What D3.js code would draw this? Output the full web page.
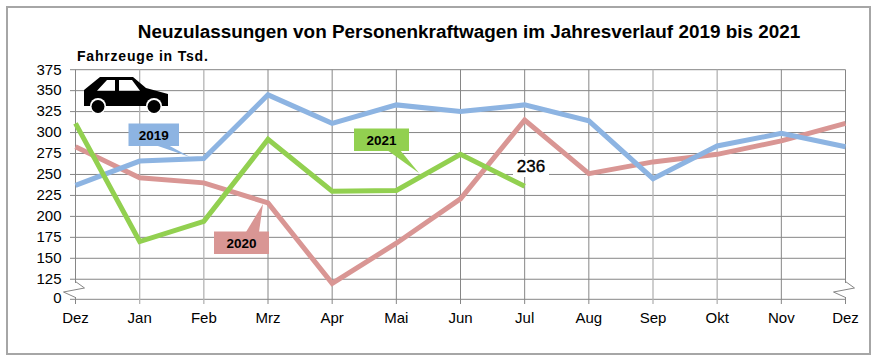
<!DOCTYPE html>
<html><head><meta charset="utf-8">
<script src="https://cdnjs.cloudflare.com/ajax/libs/d3/7.8.5/d3.min.js"></script>
<style>html,body{margin:0;padding:0;background:#fff}svg{display:block}text{font-family:"Liberation Sans",Arial,sans-serif;fill:#000}</style>
</head><body><svg id="c" width="880" height="364"></svg>
<script>
const months=["Dez","Jan","Feb","Mrz","Apr","Mai","Jun","Jul","Aug","Sep","Okt","Nov","Dez "];
const yTicks=[0,125,150,175,200,225,250,275,300,325,350,375];
const s2019=[237,266,269,345,311,333,325,333,314,245,284,299,283];
const s2020=[283,246,240,216,120,168,221,315,251,265,274,290,311];
const s2021=[311,170,194,292,230,231,274,236];
const lastLabel="236";
const title="Neuzulassungen von Personenkraftwagen im Jahresverlauf 2019 bis 2021";
const unit="Fahrzeuge in Tsd.";

const svg=d3.select("#c");
const x=d3.scalePoint().domain(months).range([75.5,845.5]);
const y=d3.scaleLinear().domain([0,105,375]).range([299.3,296,69.7]);
const grid="#868686";

svg.append("rect").attr("x",7).attr("y",7).attr("width",863).attr("height",347).attr("fill","#fff").attr("stroke","#a6a6a6").attr("stroke-width",2);

svg.append("text").attr("x",469).attr("y",37.5).attr("text-anchor","middle").attr("font-size",18.9).attr("font-weight","bold").text(title);
svg.append("text").attr("x",77).attr("y",61).attr("font-size",14).attr("font-weight","bold").attr("letter-spacing",0.8).text(unit);

// horizontal grid
svg.append("g").selectAll("line").data(yTicks).join("line")
 .attr("x1",70).attr("x2",845.5).attr("y1",d=>y(d)).attr("y2",d=>y(d)).attr("stroke",grid).attr("stroke-width",1);
// vertical grid
svg.append("g").selectAll("line").data(months).join("line")
 .attr("x1",d=>x(d)).attr("x2",d=>x(d)).attr("y1",y(375))
 .attr("y2",304).attr("stroke",(d,i)=>(i===1||i===2||i===9||i===10)?"#b4b4b4":grid).attr("stroke-width",(d,i)=>(i===1||i===2||i===9||i===10)?1.3:1);
// axis break marks
[months[0],months[12]].forEach(m=>{
 const px=x(m);
 svg.append("rect").attr("x",px-2).attr("y",283).attr("width",4).attr("height",14).attr("fill","#fff");
 svg.append("path").attr("d",d3.line()([[px,281.5],[px+9,288],[px-12,292],[px,297.5]])).attr("fill","none").attr("stroke",grid).attr("stroke-width",1);
});
// labels
svg.append("g").selectAll("text").data(yTicks).join("text")
 .attr("x",61.5).attr("y",d=>d===0?302.7:y(d)+4.8).attr("text-anchor","end").attr("font-size",15).text(d=>d);
svg.append("g").selectAll("text").data(months).join("text")
 .attr("x",d=>x(d)).attr("y",322.7).attr("text-anchor","middle").attr("font-size",15).text(d=>d);

// lines
const line=d3.line().x((d,i)=>x(months[i])).y(d=>y(d));
const cols={a:"#d99694",b:"#8db4e2",c:"#92d050"};
[[s2020,cols.a],[s2019,cols.b],[s2021,cols.c]].forEach(([s,col])=>{
 svg.append("path").attr("d",line(s)).attr("fill","none").attr("stroke",col).attr("stroke-width",5).attr("stroke-linejoin","miter");
});

// callouts
function callout(label,col,rx,ry,rw,rh,poly){
 svg.append("polygon").attr("points",poly.join(" ")).attr("fill",col);
 svg.append("rect").attr("x",rx).attr("y",ry).attr("width",rw).attr("height",rh).attr("fill",col);
 svg.append("text").attr("x",rx+rw/2).attr("y",ry+rh/2+5).attr("text-anchor","middle").attr("font-size",13.5).attr("font-weight","bold").text(label);
}
callout("2019",cols.b,128.5,123.5,50.5,22.5,[[155,145],[168,145],[190,157]]);
callout("2020",cols.a,214,231.5,55,22.5,[[246,232],[259,232],[263,204]]);
callout("2021",cols.c,354,128.5,55,22.5,[[387,150],[400,150],[419,173]]);

// last value label
svg.append("rect").attr("x",513).attr("y",156).attr("width",36).attr("height",21).attr("fill","#fff");
svg.append("text").attr("x",531).attr("y",172).attr("text-anchor","middle").attr("font-size",17).attr("stroke","#000").attr("stroke-width",0.35).text(lastLabel);

// car icon
const car=svg.append("g");
car.append("path").attr("fill","#000").attr("d","M84,106V90L100,77H133L146,88L168,94V106Z");
car.append("path").attr("fill","#fff").attr("d","M97,90.7L107,80H115V90.7ZM119,80H132L140,90.7H119Z");
car.append("circle").attr("cx",98).attr("cy",106).attr("r",8).attr("fill","#fff");
car.append("circle").attr("cx",154).attr("cy",106).attr("r",8).attr("fill","#fff");
car.append("ellipse").attr("cx",98).attr("cy",106.5).attr("rx",6.5).attr("ry",6.5).attr("fill","#000");
car.append("ellipse").attr("cx",154).attr("cy",106.5).attr("rx",6.5).attr("ry",6.5).attr("fill","#000");
</script></body></html>
